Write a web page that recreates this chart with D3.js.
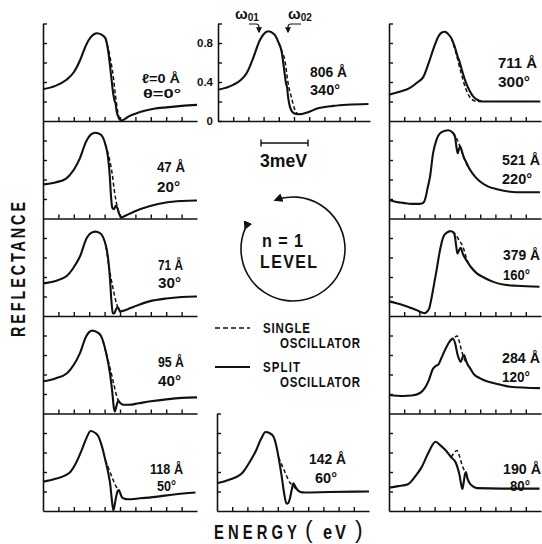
<!DOCTYPE html>
<html><head><meta charset="utf-8">
<script src="https://cdn.jsdelivr.net/npm/d3@7"></script>
<style>
body{margin:0;background:#fff;}
svg{display:block;}
text{font-family:"Liberation Sans",Arial,Helvetica,sans-serif;font-weight:bold;fill:#111;}
</style></head><body>
<svg id="c" width="542" height="544"></svg>
<script>
// ---------------- DATA (x in tick units 0-10, y = reflectance 0-1) ----------------
const panelIds = ["L1","L2","L3","L4","L5","M1","M5","R1","R2","R3","R4","R5"];
const thicknessLabels = ["ℓ=0 Å","47 Å","71 Å","95 Å","118 Å","806 Å","142 Å","711 Å","521 Å","379 Å","284 Å","190 Å"];
const angleLabels = ["θ=0°","20°","30°","40°","50°","340°","60°","300°","220°","160°","120°","80°"];
const yTickValues = [0.2,0.4,0.6,0.8];
const yTickLabels = ["0","0.4","0.8"];
const xTickValues = [1,2,3,4,5,6,7,8,9];

const splitL1 = [[0,0.325],[0.8,0.36],[1.5,0.42],[2.0,0.50],[2.4,0.62],[2.8,0.78],[3.1,0.86],[3.5,0.90],[3.8,0.885],[4.05,0.85],[4.24,0.71],[4.42,0.47],[4.57,0.27],[4.64,0.21],[4.7,0.19],[4.78,0.10],[4.9,0.04],[5.0,0.012],[5.1,0.005],[5.3,0.02],[5.54,0.045],[6.0,0.075],[6.6,0.105],[7.2,0.125],[8.0,0.14],[9.0,0.155],[10,0.165]];
const singleL1 = [[4.05,0.85],[4.3,0.70],[4.55,0.47],[4.7,0.27],[4.85,0.10],[5.0,0.012],[5.1,0.005]];
const splitL2 = [[0,0.35],[0.8,0.37],[1.5,0.41],[2.0,0.50],[2.4,0.62],[2.8,0.79],[3.1,0.86],[3.4,0.88],[3.75,0.86],[4.05,0.76],[4.22,0.63],[4.33,0.45],[4.42,0.22],[4.5,0.11],[4.6,0.095],[4.72,0.13],[4.82,0.11],[4.95,0.045],[5.1,0.01],[5.3,0.025],[5.9,0.07],[6.9,0.125],[8.0,0.165],[9.0,0.18],[10,0.185]];
const singleL2 = [[4.05,0.76],[4.3,0.62],[4.5,0.45],[4.62,0.30],[4.78,0.15],[4.95,0.05],[5.1,0.01]];
const splitL3 = [[0,0.335],[0.8,0.36],[1.54,0.41],[2.0,0.50],[2.4,0.61],[2.84,0.80],[3.1,0.85],[3.4,0.865],[3.7,0.85],[4.1,0.71],[4.25,0.56],[4.35,0.38],[4.44,0.16],[4.53,0.03],[4.62,0.025],[4.72,0.06],[4.83,0.09],[4.92,0.075],[5.0,0.045],[5.12,0.05],[5.5,0.07],[5.9,0.095],[6.9,0.15],[8.0,0.18],[9.0,0.195],[10,0.20]];
const singleL3 = [[4.1,0.71],[4.3,0.49],[4.5,0.32],[4.7,0.17],[4.85,0.09],[5.0,0.045]];
const splitL4 = [[0,0.33],[0.8,0.36],[1.54,0.41],[2.0,0.50],[2.4,0.62],[2.8,0.79],[3.2,0.85],[3.5,0.835],[3.75,0.80],[4.1,0.62],[4.35,0.41],[4.5,0.22],[4.6,0.06],[4.66,0.02],[4.76,0.07],[4.88,0.13],[5.0,0.11],[5.2,0.09],[5.6,0.09],[6.2,0.105],[7.0,0.125],[8.0,0.145],[9.0,0.16],[10,0.165]];
const singleL4 = [[3.9,0.74],[4.1,0.62],[4.35,0.47],[4.6,0.30],[4.8,0.17],[4.95,0.12]];
const splitL5 = [[0,0.30],[0.8,0.33],[1.7,0.39],[2.1,0.48],[2.5,0.62],[2.8,0.74],[3.09,0.82],[3.35,0.805],[3.6,0.765],[3.85,0.65],[4.05,0.52],[4.25,0.38],[4.36,0.28],[4.46,0.13],[4.57,0.005],[4.65,0.06],[4.74,0.14],[4.85,0.205],[4.92,0.215],[5.0,0.19],[5.11,0.145],[5.3,0.125],[5.5,0.12],[6.3,0.13],[7.3,0.145],[8.5,0.17],[9.9,0.19]];
const singleL5 = [[4.05,0.52],[4.3,0.42],[4.55,0.32],[4.75,0.25],[4.92,0.215]];
const splitM1 = [[0,0.32],[1.0,0.37],[1.5,0.42],[1.88,0.49],[2.1,0.56],[2.3,0.64],[2.76,0.83],[3.0,0.89],[3.3,0.92],[3.7,0.89],[3.97,0.81],[4.19,0.71],[4.34,0.54],[4.47,0.39],[4.55,0.34],[4.6,0.26],[4.68,0.18],[4.82,0.11],[5.0,0.08],[5.26,0.07],[5.6,0.075],[5.92,0.09],[6.58,0.13],[7.6,0.155],[8.5,0.167],[9.9,0.175]];
const singleM1 = [[4.0,0.80],[4.19,0.72],[4.4,0.62],[4.62,0.38],[4.85,0.23],[5.07,0.11],[5.26,0.07]];
const splitM5 = [[0,0.285],[0.8,0.32],[1.66,0.39],[2.1,0.49],[2.57,0.62],[2.9,0.74],[3.2,0.81],[3.45,0.80],[3.71,0.765],[3.9,0.67],[4.05,0.55],[4.27,0.34],[4.45,0.15],[4.57,0.075],[4.68,0.08],[4.8,0.13],[4.92,0.22],[5.03,0.285],[5.15,0.25],[5.3,0.215],[5.5,0.195],[5.76,0.19],[7.35,0.195],[10,0.20]];
const singleM5 = [[4.05,0.55],[4.3,0.46],[4.55,0.37],[4.8,0.29],[5.03,0.26],[5.2,0.225],[5.35,0.21]];
const splitR1 = [[0,0.27],[0.7,0.30],[1.38,0.34],[1.9,0.40],[2.25,0.45],[2.6,0.59],[2.9,0.73],[3.24,0.865],[3.45,0.905],[3.68,0.915],[3.9,0.89],[4.1,0.85],[4.35,0.75],[4.56,0.64],[4.62,0.62],[4.8,0.52],[5.0,0.42],[5.3,0.31],[5.55,0.25],[5.9,0.21],[6.2,0.20],[7.5,0.20],[9.95,0.20]];
const singleR1 = [[4.1,0.85],[4.4,0.70],[4.8,0.46],[5.1,0.31],[5.4,0.23],[5.8,0.20],[6.2,0.20]];
const splitR2 = [[0,0.19],[0.5,0.17],[0.94,0.16],[1.5,0.15],[2.04,0.15],[2.25,0.16],[2.4,0.21],[2.55,0.32],[2.7,0.43],[2.9,0.67],[3.13,0.81],[3.46,0.885],[3.9,0.905],[4.2,0.88],[4.34,0.84],[4.45,0.72],[4.52,0.67],[4.6,0.71],[4.67,0.74],[4.78,0.70],[4.89,0.64],[5.1,0.57],[5.33,0.50],[5.66,0.43],[5.99,0.38],[6.5,0.33],[7.1,0.30],[8.4,0.27],[9.93,0.27]];
const singleR2 = [[4.2,0.88],[4.45,0.82],[4.67,0.74],[4.85,0.66],[5.0,0.60],[5.2,0.53],[5.33,0.50]];
const splitR3 = [[0,0.15],[0.5,0.13],[0.94,0.11],[1.4,0.085],[1.82,0.06],[2.1,0.04],[2.37,0.03],[2.5,0.045],[2.65,0.08],[2.78,0.17],[2.9,0.27],[3.13,0.47],[3.36,0.68],[3.57,0.81],[3.8,0.855],[4.1,0.87],[4.3,0.84],[4.42,0.72],[4.5,0.64],[4.6,0.67],[4.72,0.70],[4.85,0.64],[5.1,0.57],[5.4,0.50],[5.76,0.44],[6.3,0.39],[6.86,0.35],[7.6,0.32],[8.4,0.31],[9.9,0.30]];
const singleR3 = [[3.8,0.855],[4.05,0.875],[4.3,0.85],[4.6,0.78],[4.89,0.70],[5.1,0.59],[5.4,0.50]];
const splitR4 = [[0,0.19],[0.94,0.18],[1.5,0.185],[2.04,0.21],[2.35,0.26],[2.59,0.33],[2.9,0.46],[3.1,0.49],[3.24,0.50],[3.45,0.57],[3.68,0.65],[3.95,0.73],[4.19,0.77],[4.35,0.72],[4.5,0.61],[4.6,0.56],[4.72,0.53],[4.85,0.58],[4.95,0.60],[5.05,0.55],[5.15,0.51],[5.35,0.46],[5.55,0.41],[6.0,0.36],[6.43,0.33],[7.2,0.30],[7.96,0.275],[9.93,0.26]];
const singleR4 = [[4.0,0.74],[4.3,0.78],[4.5,0.795],[4.62,0.74],[4.75,0.66],[4.95,0.56],[5.15,0.51]];
const splitR5 = [[0,0.24],[0.6,0.255],[1.24,0.275],[1.7,0.35],[2.15,0.45],[2.6,0.60],[3.06,0.71],[3.4,0.67],[3.74,0.62],[4.09,0.55],[4.38,0.50],[4.52,0.44],[4.65,0.36],[4.75,0.27],[4.83,0.225],[4.92,0.30],[5.0,0.38],[5.06,0.40],[5.15,0.34],[5.29,0.29],[5.5,0.255],[5.79,0.235],[7.38,0.23],[9.9,0.23]];
const singleR5 = [[4.09,0.55],[4.3,0.60],[4.47,0.62],[4.6,0.58],[4.77,0.49],[4.95,0.42],[5.06,0.40]];

const splitSeries = [splitL1,splitL2,splitL3,splitL4,splitL5,splitM1,splitM5,splitR1,splitR2,splitR3,splitR4,splitR5];
const singleSeries = [singleL1,singleL2,singleL3,singleL4,singleL5,singleM1,singleM5,singleR1,singleR2,singleR3,singleR4,singleR5];

// ---------------- LAYOUT ----------------
const PH = 97.5;
const colRange = {L:[43,197], M:[218,370], M5:[217,369], R:[389,541]};
const rowBottom = [121, 218.5, 316, 413.5, 511];
const panelCol = ["L","L","L","L","L","M","M5","R","R","R","R","R"];
const panelRow = [0,1,2,3,4,0,4,0,1,2,3,4];
// label layout: [x1, baseline1, baseline2, x2, width1, width2, fontsize]
const labelPos = [
  [142,83,98,143,38,38,13],[157,172,192,157,28,23,14],[158,270,288,158,25,23,14],[158,367,386,158,26,23,14],[150,474,491,157,33,19,14],
  [310,77,95,310,37,30,14],[309,464,483,315,37,22,14],
  [498,68,87,498,39,32,14],[502,165,184,502,38,30,14],[503,260,280,503,37,27,14],[502,363,382,502,38,28,14],[503,474,491,510,38,20,14]
];

const svg = d3.select("#c");
const defs = svg.append("defs");
defs.append("marker").attr("id","ah").attr("viewBox","0 0 10 10").attr("refX",8).attr("refY",5)
  .attr("markerWidth",9).attr("markerHeight",9).attr("markerUnits","userSpaceOnUse").attr("orient","auto")
  .append("path").attr("d","M0,0 L10,5 L0,10 z").attr("fill","#111");
defs.append("marker").attr("id","ahs").attr("viewBox","0 0 10 10").attr("refX",8).attr("refY",5)
  .attr("markerWidth",6).attr("markerHeight",6).attr("markerUnits","userSpaceOnUse").attr("orient","auto")
  .append("path").attr("d","M0,0 L10,5 L0,10 z").attr("fill","#111");

function fitText(sel, w){ return sel.attr("textLength",w).attr("lengthAdjust","spacingAndGlyphs"); }
// condensed, letter-spaced text: glyphs squeezed by sx, spacing filled to total width w
function condText(x, y, str, size, sx, w, rot){
  const g = svg.append("g").attr("transform",`translate(${x},${y})${rot?" rotate("+rot+")":""} scale(${sx},1)`);
  return g.append("text").attr("x",0).attr("y",0).attr("font-size",size)
    .attr("textLength",w/sx).attr("lengthAdjust","spacing").text(str);
}

panelIds.forEach((id,i)=>{
  const [x0,x1] = colRange[panelCol[i]];
  const yb = rowBottom[panelRow[i]];
  const x = d3.scaleLinear().domain([0,10]).range([x0,x1]);
  const y = d3.scaleLinear().domain([0,1]).range([yb,yb-PH]);
  const g = svg.append("g").attr("class","panel "+id);
  const isTop = panelRow[i]===0 || id==="M5";
  const isM1 = id==="M1";

  const xa = g.append("g").attr("transform",`translate(0,${yb})`)
    .call(d3.axisBottom(x).tickValues(xTickValues).tickSize(-4).tickSizeOuter(0).tickFormat(""));
  let yv = yTickValues.slice();
  if(isTop) yv.push(1.0);
  if(isM1) yv = [0].concat(yv);
  const ya = g.append("g").attr("transform",`translate(${x0},0)`)
    .call(d3.axisLeft(y).tickValues(yv).tickSize(-4).tickSizeOuter(0).tickPadding(5)
      .tickFormat(d=> isM1 ? (Math.abs(d)<1e-6?yTickLabels[0]:Math.abs(d-0.4)<1e-6?yTickLabels[1]:Math.abs(d-0.8)<1e-6?yTickLabels[2]:"") : ""));
  [xa,ya].forEach(a=>{
    a.select(".domain").attr("stroke","#111").attr("stroke-width",1.6);
    a.selectAll(".tick line").attr("stroke","#111").attr("stroke-width",1.4);
    a.selectAll(".tick text").attr("font-size",11.5).attr("fill","#111")
      .style("font-family",'"Liberation Sans",Arial,sans-serif').style("font-weight","bold");
  });

  const line = d3.line().x(d=>x(d[0])).y(d=>y(d[1])).curve(d3.curveMonotoneX);
  g.append("path").datum(singleSeries[i]).attr("d",line).attr("fill","none")
    .attr("stroke","#111").attr("stroke-width",1.5).attr("stroke-dasharray","4,2.5");
  g.append("path").datum(splitSeries[i]).attr("d",line).attr("fill","none")
    .attr("stroke","#111").attr("stroke-width",2.1).attr("stroke-linejoin","round");

  const p = labelPos[i];
  fitText(g.append("text").attr("x",p[0]).attr("y",p[1]).attr("font-size",p[6]).text(thicknessLabels[i]), p[4]);
  fitText(g.append("text").attr("x",p[3]).attr("y",p[2]).attr("font-size",p[6]).text(angleLabels[i]), p[5]);
});

// omega markers
const om = svg.append("g");
om.append("text").attr("x",235).attr("y",19).attr("font-size",15).text("ω").append("tspan").attr("font-size",10).attr("dy",2).text("01");
om.append("text").attr("x",288).attr("y",19).attr("font-size",15).text("ω").append("tspan").attr("font-size",10).attr("dy",2).text("02");
om.append("path").attr("d","M249,24 H256 Q259,24 259,27 V32").attr("fill","none").attr("stroke","#111").attr("stroke-width",1.2).attr("marker-end","url(#ahs)");
om.append("path").attr("d","M301,24 H291 Q288,24 288,27 V32").attr("fill","none").attr("stroke","#111").attr("stroke-width",1.2).attr("marker-end","url(#ahs)");

// scale bar
const sb = svg.append("g").attr("stroke","#111").attr("stroke-width",1.4);
sb.append("line").attr("x1",261).attr("x2",308).attr("y1",143).attr("y2",143);
sb.append("line").attr("x1",261).attr("x2",261).attr("y1",139.5).attr("y2",146.5);
sb.append("line").attr("x1",308).attr("x2",308).attr("y1",139.5).attr("y2",146.5);
fitText(svg.append("text").attr("x",260).attr("y",167).attr("font-size",19).text("3meV"), 47);

// circle
const cx=293, cy=249, r=52;
const pt = a=>[cx+r*Math.cos(a*Math.PI/180), cy+r*Math.sin(a*Math.PI/180)];
const s0 = pt(203), e0 = pt(-110);
svg.append("path").attr("d",`M${s0[0]},${s0[1]} A${r},${r} 0 1 0 ${e0[0]},${e0[1]}`)
  .attr("fill","none").attr("stroke","#111").attr("stroke-width",1.6)
  .attr("marker-start","url(#ah)").attr("marker-end","url(#ah)");
condText(262, 247, "n = 1", 19, 0.85, 41);
condText(260, 268, "LEVEL", 19, 0.84, 57);

// legend
svg.append("line").attr("x1",215).attr("x2",250).attr("y1",328).attr("y2",328).attr("stroke","#111").attr("stroke-width",1.5).attr("stroke-dasharray","5,3");
svg.append("line").attr("x1",215).attr("x2",250).attr("y1",367).attr("y2",367).attr("stroke","#111").attr("stroke-width",2);
condText(263, 333, "SINGLE", 14, 0.82, 47);
condText(280, 348, "OSCILLATOR", 14, 0.82, 80);
condText(263, 372, "SPLIT", 14, 0.82, 37);
condText(280, 387, "OSCILLATOR", 14, 0.82, 80);

// axis titles
condText(25, 337, "REFLECTANCE", 20, 0.72, 135, -90);
condText(214, 539, "ENERGY", 20, 0.74, 83);
svg.append("text").attr("x",305).attr("y",538).attr("font-size",23).style("font-weight","normal").text("(");
condText(323, 539, "eV", 20, 0.82, 23);
svg.append("text").attr("x",355).attr("y",538).attr("font-size",23).style("font-weight","normal").text(")");
</script>
</body></html>
